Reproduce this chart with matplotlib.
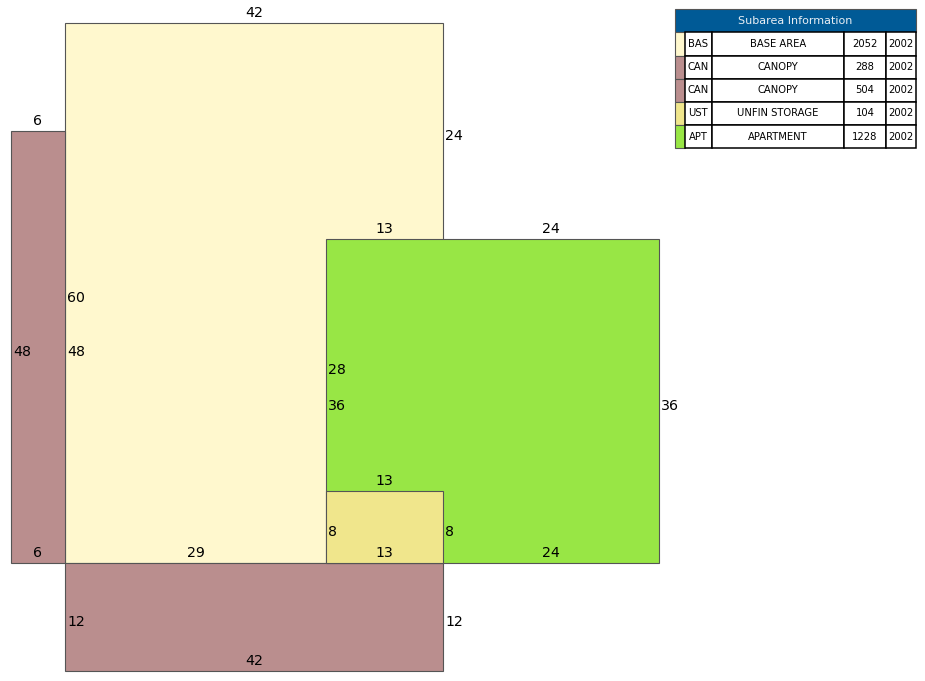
import matplotlib
matplotlib.use('Agg')
import matplotlib.pyplot as plt
from matplotlib.patches import Rectangle

# subareas, drawn in this order (feet)
codes = ['BAS', 'CAN', 'CAN', 'APT', 'UST']
rect_x = [0, -6, 0, 29, 29]
rect_y = [0, 0, -12, 0, 0]
rect_w = [42, 6, 42, 37, 13]
rect_h = [60, 48, 12, 36, 8]
rect_colors = ['#FFF8CE', '#BA8E8E', '#BA8E8E', '#98E645', '#F0E68C']

# horizontal side labels: length, start x, y
h_len = [42, 6, 13, 24, 13, 6, 29, 13, 24, 42]
h_x = [0, -6, 29, 42, 29, -6, 0, 29, 42, 0]
h_y = [60, 48, 36, 36, 8, 0, 0, 0, 0, -12]

# vertical side labels: length, x, start y
v_len = [24, 60, 48, 48, 28, 36, 36, 8, 8, 12, 12]
v_x = [42, 0, -6, 0, 29, 29, 66, 29, 42, 0, 42]
v_y = [36, 0, 0, 0, 8, 0, 0, 0, 0, -12, -12]

# table
table_title = 'Subarea Information'
table_colors = ['#FFF8CE', '#BA8E8E', '#BA8E8E', '#F0E68C', '#98E645']
table_codes = ['BAS', 'CAN', 'CAN', 'UST', 'APT']
table_names = ['BASE AREA', 'CANOPY', 'CANOPY', 'UNFIN STORAGE', 'APARTMENT']
table_areas = [2052, 288, 504, 104, 1228]
table_years = [2002, 2002, 2002, 2002, 2002]

W, H = 925, 681
PX = 9  # pixels per foot
X0, Y0 = 65, 563

fig = plt.figure(figsize=(W / 100, H / 100), dpi=100)
ax = fig.add_axes([0, 0, 1, 1])
ax.set_xlim(-X0 / PX, (W - X0) / PX)
ax.set_ylim((Y0 - H) / PX, Y0 / PX)
ax.axis('off')

for x, y, w, h, c in zip(rect_x, rect_y, rect_w, rect_h, rect_colors):
    ax.add_patch(Rectangle((x, y), w, h, facecolor=c, edgecolor='#555555', linewidth=0.8))

for n, x, y in zip(h_len, h_x, h_y):
    ax.annotate(str(n), (x + n / 2, y), xytext=(0, 10), textcoords='offset pixels',
                ha='center', va='center', fontsize=10.2, color='black')
for n, x, y in zip(v_len, v_x, v_y):
    ax.annotate(str(n), (x, y + n / 2), xytext=(2, -5), textcoords='offset pixels',
                ha='left', va='center', fontsize=10.2, color='black')

# table is laid out in pixels
tb = fig.add_axes([0, 0, 1, 1], facecolor='none')
tb.set_xlim(0, W)
tb.set_ylim(H, 0)
tb.axis('off')

col_edges = [675, 684.5, 712, 844, 886, 916]
row_edges = [32, 55.5, 78.7, 102, 125, 148]
tb.add_patch(Rectangle((675, 9), 241, 23, facecolor='#005A96', edgecolor='#555555', linewidth=0.8))
tb.text(795.5, 21, table_title, color='#E8EEF4', ha='center', va='center', fontsize=8)

for i in range(5):
    y0, y1 = row_edges[i], row_edges[i + 1]
    ym = (y0 + y1) / 2
    tb.add_patch(Rectangle((col_edges[0], y0), col_edges[1] - col_edges[0], y1 - y0,
                           facecolor=table_colors[i], edgecolor='#555555', linewidth=0.8))
    row = [table_codes[i], table_names[i], table_areas[i], table_years[i]]
    for j, val in enumerate(row):
        x0, x1 = col_edges[j + 1], col_edges[j + 2]
        tb.add_patch(Rectangle((x0, y0), x1 - x0, y1 - y0, facecolor='white',
                               edgecolor='black', linewidth=1.1))
        tb.text((x0 + x1) / 2, ym, str(val), ha='center', va='center', fontsize=7.2, color='black')

fig.savefig('out.png', dpi=100)
